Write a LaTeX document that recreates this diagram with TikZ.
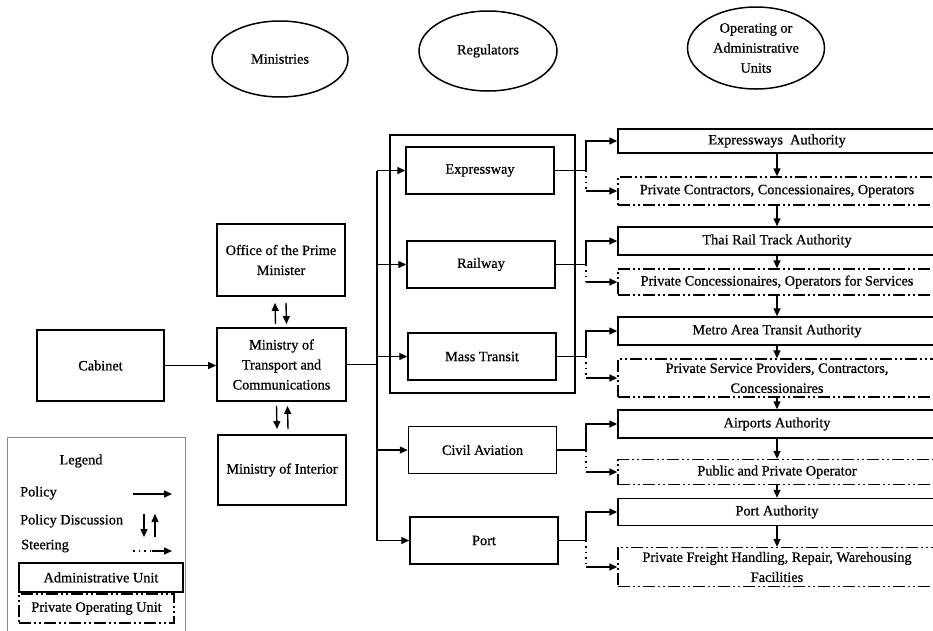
\documentclass[tikz,border=0pt]{standalone}
\usepackage{fontspec}
\setmainfont{Liberation Serif}[BoldFont={Liberation Serif},BoldFeatures={FakeBold=0.7}]
\usetikzlibrary{arrows.meta,shapes.geometric}
\begin{document}
\begin{tikzpicture}[x=1pt,y=-1pt,
  font=\fontsize{14.3}{20}\selectfont\bfseries,
  box/.style={draw,line width=1.8pt,rectangle,inner sep=0pt,align=center},
  regbox/.style={box,line width=1.5pt,minimum width=148pt,minimum height=47pt},
  unit/.style={draw,line width=1.5pt,rectangle,inner sep=0pt,align=center,minimum width=318pt},
  priv/.style={draw,line width=1.3pt,dash pattern=on 12pt off 3pt on 2pt off 3pt on 2pt off 3pt,rectangle,inner sep=0pt,align=center,minimum width=318pt},
  oval/.style={draw,ellipse,line width=1.5pt,inner sep=0pt,align=center},
  arr/.style={line width=1.4pt,-{Triangle[length=8pt,width=7pt]}},
  ln/.style={line width=1.4pt},
  dotln/.style={line width=1.4pt,dash pattern=on 1.5pt off 4pt},
]
\useasboundingbox (0,0) rectangle (933,630);
\clip (0,0) rectangle (933,630);

% header ovals
\node[oval,minimum width=136pt,minimum height=76pt] (ell1) at (280,59) {Ministries};
\node[oval,minimum width=138pt,minimum height=80pt] (ell2) at (488,51) {Regulators};
\node[oval,minimum width=137pt,minimum height=82pt] (ell3) at (756,48) {Operating or\\Administrative\\Units};

% ministries
\node[box,minimum width=127pt,minimum height=71pt] (cab) at (100.5,365.5) {Cabinet};
\node[box,minimum width=128pt,minimum height=72pt] (pm) at (281,260) {Office of the Prime\\Minister};
\node[box,minimum width=129pt,minimum height=73pt] (mot) at (281.5,364.5) {Ministry of\\Transport and\\Communications};
\node[box,minimum width=128pt,minimum height=70pt] (moi) at (282,470) {Ministry of Interior};

\draw[arr] (cab.east) -- (cab.east -| mot.west);
\draw[arr] ([shift={(-6,-3)}]mot.north) -- ([shift={(-6,6)}]pm.south);
\draw[arr] ([shift={(5,6)}]pm.south) -- ([shift={(5,-3)}]mot.north);
\draw[arr] ([shift={(-5,4)}]mot.south) -- ([shift={(-5,-5)}]moi.north);
\draw[arr] ([shift={(6,-5)}]moi.north) -- ([shift={(6,4)}]mot.south);

% regulators
\node[draw,line width=1.5pt,inner sep=0pt,minimum width=185pt,minimum height=258pt] (grp) at (482.5,264) {};
\node[regbox] (exp) at (480,170.5) {Expressway};
\node[regbox] (rail) at (481,264.5) {Railway};
\node[regbox] (mass) at (482,356.5) {Mass Transit};
\node[regbox] (civ) at (482.5,450) {Civil Aviation};
\node[regbox] (port) at (484,540.5) {Port};

\coordinate (tt) at (377,170.5);
\coordinate (tb) at (377,540.5);
\draw[ln] (mot.east) -- (mot.east -| tt);
\draw[ln] (tt) -- (tb);
\foreach \r in {exp,rail,mass,civ,port}{
  \draw[arr] (\r.west -| tt) -- (\r.west);
}

% operating / administrative units
\node[unit,minimum height=24pt] (ea) at (777,141) {Expressways~ Authority};
\node[priv,minimum height=28pt] (pc1) at (777,191) {Private Contractors, Concessionaires, Operators};
\node[unit,minimum height=28pt] (tr) at (777,241) {Thai Rail Track Authority};
\node[priv,minimum height=26pt] (pc2) at (777,282) {Private Concessionaires, Operators for Services};
\node[unit,minimum height=28pt] (mt) at (777,331) {Metro Area Transit Authority};
\node[priv,minimum height=38pt] (ps) at (777,378) {Private Service Providers, Contractors,\\Concessionaires};
\node[unit,minimum height=28pt] (aa) at (777,424) {Airports Authority};
\node[priv,minimum height=25pt] (pp) at (777,472) {Public and Private Operator};
\node[unit,minimum height=27pt] (pa) at (777,512) {Port Authority};
\node[priv,minimum height=39pt] (pf) at (777,567) {Private Freight Handling, Repair, Warehousing\\Facilities};

\draw[arr] (ea.south) -- (pc1.north);
\draw[arr] (pc1.south) -- (tr.north);
\draw[arr] (tr.south) -- (pc2.north);
\draw[arr] (pc2.south) -- (mt.north);
\draw[arr] (mt.south) -- (ps.north);
\draw[arr] (ps.south) -- (aa.north);
\draw[arr] (aa.south) -- (pp.north);
\draw[arr] (pp.south) -- (pa.north);
\draw[arr] (pa.south) -- (pf.north);

% forks
\coordinate (fk) at (586,0);
\foreach \r/\a/\p in {exp/ea/pc1,rail/tr/pc2,mass/mt/ps,civ/aa/pp,port/pa/pf}{
  \draw[arr] (\r.east) -- (\r.east -| fk) |- (\a.west);
  \draw[dotln] (\r.east -| fk) -- (\p.west -| fk);
  \draw[arr] (\p.west -| fk) -- (\p.west);
}

% legend
\node[draw=black!45,line width=0.8pt,inner sep=0pt,minimum width=178pt,minimum height=203pt] (leg) at (96,538.5) {};
\node (legt) at (81,461) {Legend};
\node[anchor=west,inner sep=0pt] (lp) at (20,493) {Policy};
\node[anchor=west,inner sep=0pt] (ld) at (20,521) {Policy Discussion};
\node[anchor=west,inner sep=0pt] (ls) at (21,546) {Steering};
\coordinate (pa1) at (133,494);
\coordinate (pa2) at (172,494);
\draw[arr] (pa1) -- (pa2);
\coordinate (da1) at (144,514);
\coordinate (da2) at (144,537);
\coordinate (ua1) at (155,537);
\coordinate (ua2) at (155,514);
\draw[arr] (da1) -- (da2);
\draw[arr] (ua1) -- (ua2);
\coordinate (sa1) at (133,551);
\coordinate (sa2) at (152,551);
\coordinate (sa3) at (172,551);
\draw[dotln] (sa1) -- (sa2);
\draw[arr] (sa2) -- (sa3);
\node[box,line width=1.5pt,minimum width=164pt,minimum height=29pt] (lau) at (101,577.5) {Administrative Unit};
\node[priv,minimum width=155pt,minimum height=29pt] (lpu) at (96.5,608.5) {Private Operating Unit};
\end{tikzpicture}
\end{document}
